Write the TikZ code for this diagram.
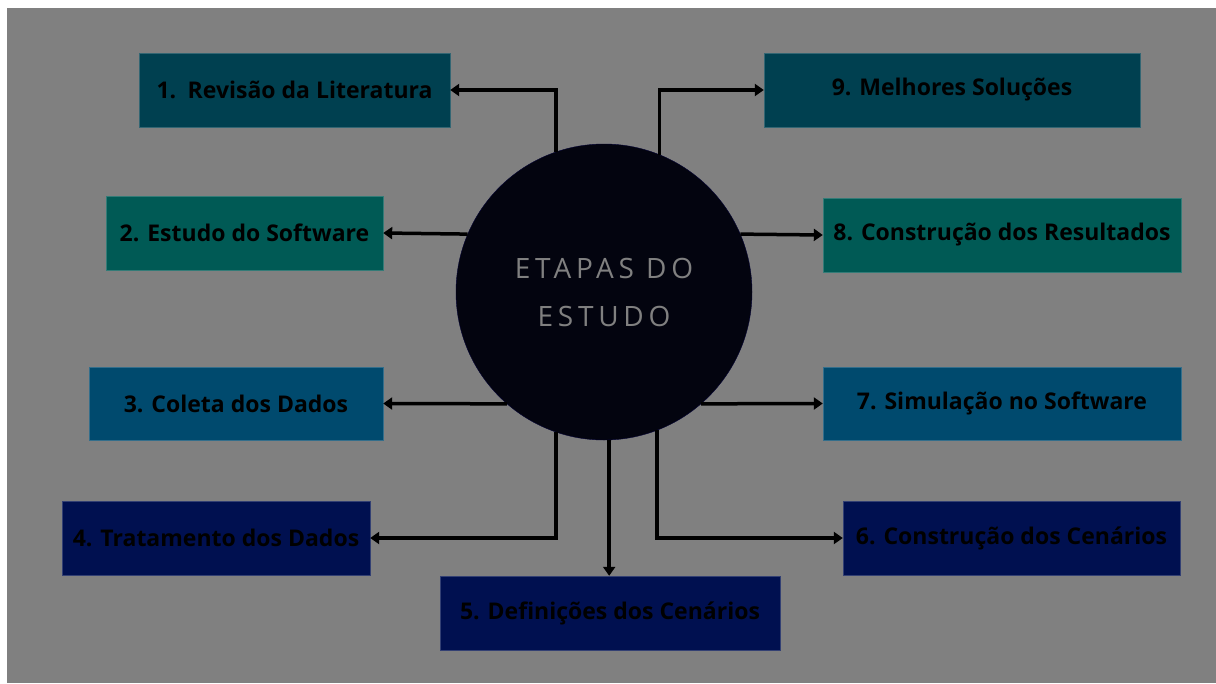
\documentclass[tikz,border=0pt]{standalone}
\usepackage{fontspec}
\setmainfont{Open Sans}
\newfontfamily\circfont{Open Sans}[LetterSpace=17]
\usetikzlibrary{arrows.meta}
\definecolor{bgray}{HTML}{808080}
\definecolor{cA}{HTML}{004050}
\definecolor{cB}{HTML}{005A55}
\definecolor{cC}{HTML}{004A6E}
\definecolor{cD}{HTML}{001050}
\definecolor{cCirc}{HTML}{03040F}
\definecolor{cText}{HTML}{808080}
\tikzset{
  stepbox/.style={rectangle, inner sep=0pt, minimum height=74pt, text=black,
    font=\fontsize{23}{26}\selectfont\bfseries, draw=#1!80!white, line width=0.4pt, fill=#1},
  conn/.style={draw=black, line width=3.5pt, -{Triangle[length=9pt,width=12pt]}}
}
\begin{document}
\begin{tikzpicture}[x=1pt,y=-1pt]
\useasboundingbox (0,0) rectangle (1216,683);
\fill[white] (0,0) rectangle (1216,683);
\fill[bgray] (7,8) rectangle (1216,683);
\node[circle, minimum size=296pt, inner sep=0pt, fill=cCirc, draw=cCirc!85!blue, align=center,
  text=cText, font=\circfont\fontsize{28}{48}\selectfont] (c) at (604,292) {ETAPAS DO\\ESTUDO};
\node[stepbox=cA, minimum width=311pt] (b1) at (294.5,90) {1.\enspace Revisão da Literatura};
\node[stepbox=cA, minimum width=376pt] (b9) at (952,90) {9. Melhores Soluções};
\node[stepbox=cB, minimum width=277pt] (b2) at (244.5,233) {2. Estudo do Software};
\node[stepbox=cB, minimum width=358pt] (b8) at (1002,235) {8. Construção dos Resultados};
\node[stepbox=cC, minimum width=294pt, minimum height=73pt] (b3) at (236,403.5) {3. Coleta dos Dados};
\node[stepbox=cC, minimum width=358pt, minimum height=73pt] (b7) at (1002,403.5) {7. Simulação no Software};
\node[stepbox=cD, minimum width=308pt] (b4) at (216,538) {4. Tratamento dos Dados};
\node[stepbox=cD, minimum width=340pt] (b5) at (610,613) {5. Definições dos Cenários};
\node[stepbox=cD, minimum width=337pt] (b6) at (1011.5,538) {6. Construção dos Cenários};
\draw[conn] (c.109) |- (b1.east);
\draw[conn] (c.68) |- (b9.west);
\draw[conn] (c.157) -- (b2.east);
\draw[conn] (c.23) -- (b8.west);
\draw[conn] (c.229) -- (b3.east);
\draw[conn] (c.-49) -- (b7.west);
\draw[conn] (c.251) |- (b4.east);
\draw[conn] (c.-88) -- (c.-88 |- b5.north);
\draw[conn] (c.-69) |- (b6.west);
\end{tikzpicture}
\end{document}
